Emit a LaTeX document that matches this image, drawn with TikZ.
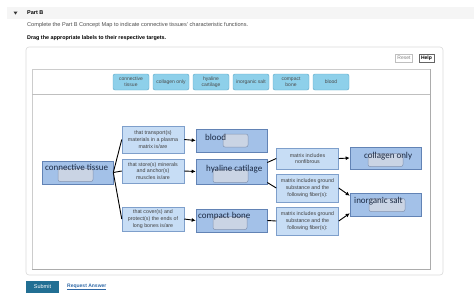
\documentclass[tikz,border=0pt]{standalone}
\usepackage{fontspec}
\setmainfont{Liberation Sans}
\newfontfamily\mapfont{Carlito}
\usetikzlibrary{arrows.meta}
\definecolor{termblue}{HTML}{A3C1E8}
\definecolor{termedge}{HTML}{6283B5}
\definecolor{phraseblue}{HTML}{C7DDF5}
\definecolor{phraseedge}{HTML}{7E9FCB}
\definecolor{slotgray}{HTML}{CAD4E4}
\definecolor{slotedge}{HTML}{8394B2}
\definecolor{chipcyan}{HTML}{8ED0EA}
\definecolor{chipedge}{HTML}{5AA7C6}
\definecolor{inknavy}{HTML}{1B2A44}
\definecolor{submitteal}{HTML}{226F93}
\definecolor{linkblue}{HTML}{2F68A6}

\begin{document}
\begin{tikzpicture}[x=1pt,y=-1pt,
 termbox/.style={draw=termedge,fill=termblue,line width=0.6pt,minimum width=71pt,inner sep=0pt},
 slot/.style={draw=slotedge,fill=slotgray,rounded corners=2pt,line width=0.5pt,minimum height=13pt,inner sep=0pt},
 termtext/.style={font=\mapfont\fontsize{9}{10}\selectfont,text=inknavy,anchor=west,inner sep=0pt},
 phrase/.style={draw=phraseedge,fill=phraseblue,line width=0.5pt,minimum width=62pt,inner sep=0pt,align=center,font=\fontsize{5.3}{6.7}\selectfont,text=black!75},
 chip/.style={draw=chipedge,fill=chipcyan,rounded corners=2pt,minimum width=36pt,minimum height=16pt,inner sep=0pt,align=center,font=\fontsize{5}{5.8}\selectfont,text=black!70},
 btn/.style={draw=gray!50,minimum width=17pt,minimum height=8pt,inner sep=0pt,font=\fontsize{5}{6}\selectfont},
 link/.style={line width=0.9pt},
 arr/.style={line width=0.9pt,-{Latex[length=4pt,width=4pt]}}]
 \useasboundingbox (0,0) rectangle (474,293);
 \fill[gray!8] (7,7) rectangle (474,19);
 \fill[black!80] (13.5,11.5) -- (17.5,11.5) -- (15.5,14.5) -- cycle;
 \node[anchor=west,inner sep=0pt,font=\bfseries\fontsize{5.5}{6}\selectfont] (part) at (27,13) {Part B};
 \node[anchor=west,inner sep=0pt,text=black!70,font=\fontsize{5.6}{6}\selectfont] (intro) at (27,25)
  {Complete the Part B Concept Map to indicate connective tissues' characteristic functions.};
 \node[anchor=west,inner sep=0pt,font=\bfseries\fontsize{5.4}{6}\selectfont] (task) at (27,38)
  {Drag the appropriate labels to their respective targets.};
 \draw[gray!30,rounded corners=3pt,line width=0.6pt] (26,47) rectangle (443,275);
 \node[btn,text=gray] (reset) at (404,58) {Reset};
 \node[btn,draw=black!60,font=\bfseries\fontsize{5}{6}\selectfont,minimum width=15pt] (help) at (426.5,58) {Help};
 \draw[gray!40,line width=0.6pt] (32,69) rectangle (430,269);
 \draw[gray!65,line width=1pt] (430,69) -- (430,269) -- (32,269);
 \draw[gray!50,line width=0.8pt] (32,94) -- (430,94);
 \foreach \n/\x/\t in {cconn/131/{connective\\tissue},ccoll/171/collagen only,chyal/211/{hyaline\\cartilage},
  cinorg/251/inorganic salt,ccomp/291/{compact\\bone},cblood/331/blood}
  \node[chip] (\n) at (\x,82) {\t};
 \foreach \n/\cx/\cy/\h/\sx/\sy/\sw/\tx/\ty/\t in {
  conn/77.5/172.5/23/75.5/175/35/45/167/connective tissue,
  blood/231.5/140.5/23/235.5/140.5/25/205/137/blood,
  hyal/231.5/171.5/25/230.5/176/35/206/169/hyaline catilage,
  comp/231.5/220.5/23/230/223/34/198/216/compact bone,
  coll/385.5/158/22/385.5/160/35/364/156/collagen only,
  inorg/385.5/204.5/23/387/205/36/354/201/inorganic salt} {
  \node[termbox,minimum height=\h] (\n) at (\cx,\cy) {};
  \node[slot,minimum width=\sw] (\n-slot) at (\sx,\sy) {};
  \node[termtext] (\n-text) at (\tx,\ty) {\t};}
 \foreach \n/\cx/\cy/\h/\t in {
  t1/153/139.5/27/{that transport(s)\\materials in a plasma\\matrix is/are},
  t2/153/171/24/{that store(s) minerals\\and anchor(s)\\muscles is/are},
  t3/153/219/24/{that cover(s) and\\protect(s) the ends of\\long bones is/are},
  m1/307.5/158.5/21/{matrix includes\\nonfibrous},
  m2/307.5/188/28/{matrix includes ground\\substance and the\\following fiber(s):},
  m3/307.5/221/28/{matrix includes ground\\substance and the\\following fiber(s):}}
  \node[phrase,minimum height=\h] (\n) at (\cx,\cy) {\t};
 \draw[link] (conn.east) -- (t1.west);
 \draw[link] (conn.east) -- (t2.west);
 \draw[link] (conn.east) -- (t3.west);
 \draw[arr] (t1.east) -- (blood.west);
 \draw[arr] (t2.east) -- (hyal.west);
 \draw[arr] (t3.east) -- (comp.west);
 \draw[link] ([yshift=9pt]hyal.east) -- (m1.west);
 \draw[link] ([yshift=-11pt]hyal.east) -- (m2.west);
 \draw[link] (comp.east) -- (m3.west);
 \draw[arr] (m1.east) -- (coll.west);
 \draw[arr] (m2.east) -- ([yshift=-3pt]inorg.north west);
 \draw[arr] (m3.east) -- ([yshift=3pt]inorg.south west);
 \node[fill=submitteal,text=white,minimum width=33pt,minimum height=12pt,inner sep=0pt,
  font=\fontsize{5.5}{6}\selectfont] (submit) at (42.5,287) {Submit};
 \node[anchor=west,inner sep=0pt,text=linkblue,font=\bfseries\fontsize{5}{6}\selectfont] (answer) at (67,287)
  {\underline{Request Answer}};
\end{tikzpicture}
\end{document}
